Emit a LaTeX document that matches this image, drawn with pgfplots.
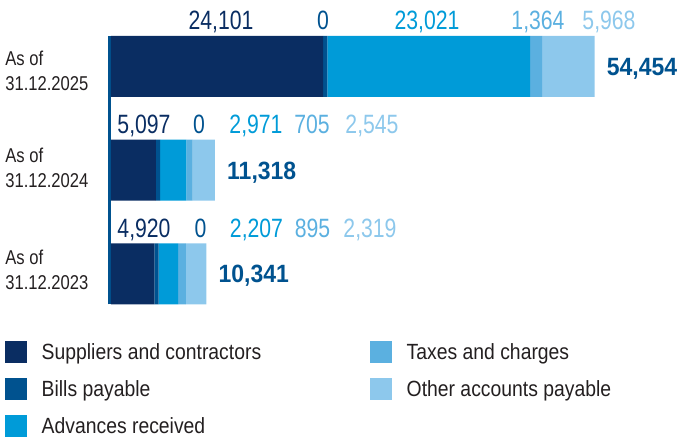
\documentclass[border=0pt]{standalone}
\usepackage{fontspec}
\usepackage{pgfplots}
\pgfplotsset{compat=1.18}
\setmainfont{Liberation Sans}
\newfontfamily\numfont{Liberation Sans}[FakeStretch=0.8]
\newfontfamily\totfont{Liberation Sans}[FakeStretch=0.92]
\newfontfamily\catfont{Liberation Sans}[FakeStretch=0.83]
\newfontfamily\legfont{Liberation Sans}[FakeStretch=0.88]
\definecolor{c1}{HTML}{0A2D62}
\definecolor{c2}{HTML}{00528F}
\definecolor{c3}{HTML}{009BD8}
\definecolor{c4}{HTML}{5BB0E0}
\definecolor{c5}{HTML}{8DC8EC}
\definecolor{txt}{HTML}{231F20}
\pgfplotsset{sqlegend/.style={legend image code/.code={\fill[##1] (0pt,-8.15pt) rectangle (22pt,13.85pt);}}}
\newcommand{\nf}{\numfont\fontsize{26.5}{30}\selectfont}
\begin{document}
\begin{tikzpicture}
\useasboundingbox (0,0) rectangle (689pt,443pt);
\begin{axis}[
  at={(109.65pt,138.5pt)}, anchor=south west,
  scale only axis, width=575.25pt, height=268.5pt,
  xbar stacked, bar width=61pt,
  xmin=-153, xmax=65216, ymin=-0.294, ymax=2.294,
  axis x line=none, axis y line*=left,
  y axis line style={line width=2.7pt, draw=c2},
  xtick=\empty,
  ytick={0.0386,1.022,1.957},
  yticklabels={{As of\\31.12.2023},{As of\\31.12.2024},{As of\\31.12.2025}},
  ytick style={draw=none}, major tick length=0pt,
  yticklabel style={anchor=west, align=left, inner sep=0pt, xshift=-104.5pt,
    font=\catfont\fontsize{20}{24.5}\selectfont, text=txt},
  clip=false,
  every axis plot post/.append style={sqlegend, draw=none},
  legend columns=2,
  legend cell align=left,
  legend style={at={(-0.1819,-0.1359)}, anchor=north west, draw=none, fill=none,
    inner sep=0pt, outer sep=0pt, column sep=14.7pt, row sep=12.15pt,
    font=\legfont\fontsize{22}{26}\selectfont, text=txt,
    nodes={inner sep=0pt, text height=16pt, text depth=6pt}},
]
\addplot[fill=c1, forget plot] coordinates {(4920,0) (5097,1) (24101,2)};
\addplot[fill=c2, forget plot] coordinates {(500,0) (500,1) (500,2)};
\addplot[fill=c3, forget plot] coordinates {(2207,0) (2971,1) (23021,2)};
\addplot[fill=c4, forget plot] coordinates {(895,0) (705,1) (1364,2)};
\addplot[fill=c5, forget plot] coordinates {(2319,0) (2545,1) (5968,2)};
\addlegendimage{sqlegend, fill=c1}
\addlegendentry{\makebox[313.6pt][l]{Suppliers and contractors}}
\addlegendimage{sqlegend, fill=c4}
\addlegendentry{\makebox[313.6pt][l]{Taxes and charges}}
\addlegendimage{sqlegend, fill=c2}
\addlegendentry{\makebox[313.6pt][l]{Bills payable}}
\addlegendimage{sqlegend, fill=c5}
\addlegendentry{\makebox[313.6pt][l]{Other accounts payable}}
\addlegendimage{sqlegend, fill=c3}
\addlegendentry{\makebox[313.6pt][l]{Advances received}}
\node[anchor=base west, inner sep=0pt, xshift=12pt, yshift=-9pt, text=c2,
  font=\totfont\bfseries\fontsize{25}{30}\selectfont] at (axis cs:54954,2) {54,454};
\node[anchor=base west, inner sep=0pt, xshift=12pt, yshift=-9pt, text=c2,
  font=\totfont\bfseries\fontsize{25}{30}\selectfont] at (axis cs:11818,1) {11,318};
\node[anchor=base west, inner sep=0pt, xshift=12pt, yshift=-9pt, text=c2,
  font=\totfont\bfseries\fontsize{25}{30}\selectfont] at (axis cs:10841,0) {10,341};
\end{axis}
% value labels above the bars
\begin{scope}[every node/.style={anchor=base, inner sep=0pt, font=\nf}]
\node[text=c1] at (221pt,413pt) {24,101};
\node[text=c2] at (323pt,413pt) {0};
\node[text=c3] at (427pt,413pt) {23,021};
\node[text=c4] at (538pt,413pt) {1,364};
\node[text=c5] at (609pt,413pt) {5,968};
\node[text=c1] at (144pt,309pt) {5,097};
\node[text=c2] at (199pt,309pt) {0};
\node[text=c3] at (256pt,309pt) {2,971};
\node[text=c4] at (312pt,309pt) {705};
\node[text=c5] at (372pt,309pt) {2,545};
\node[text=c1] at (144pt,205pt) {4,920};
\node[text=c2] at (200.5pt,205pt) {0};
\node[text=c3] at (256.5pt,205pt) {2,207};
\node[text=c4] at (312.5pt,205pt) {895};
\node[text=c5] at (370pt,205pt) {2,319};
\end{scope}
\end{tikzpicture}
\end{document}
